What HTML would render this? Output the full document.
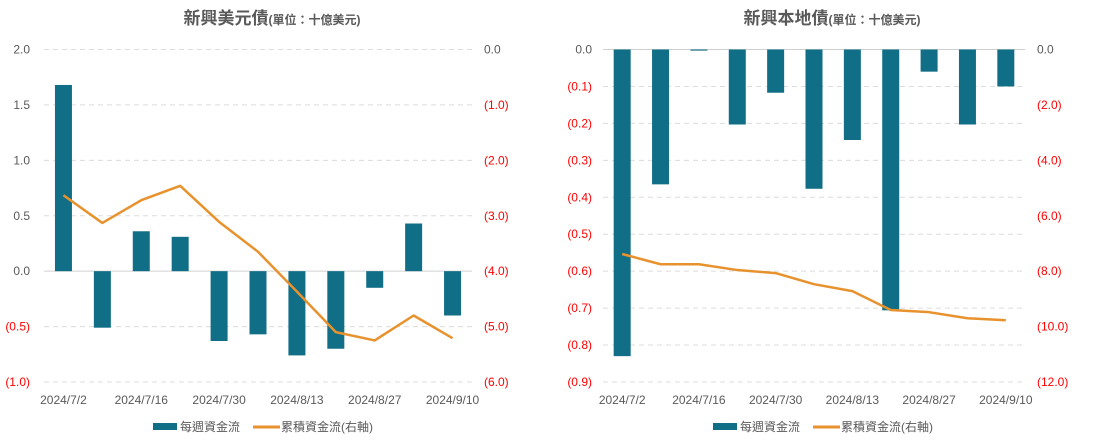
<!DOCTYPE html>
<html><head><meta charset="utf-8"><style>
body{margin:0;background:#fff;width:1104px;height:441px;overflow:hidden}
svg text{font-family:"Liberation Sans","Noto Sans CJK TC",sans-serif}
</style></head><body>
<svg id="svg" width="1104" height="441"></svg>
<script>
const categories=["2024/7/2","2024/7/9","2024/7/16","2024/7/23","2024/7/30","2024/8/6","2024/8/13","2024/8/20","2024/8/27","2024/9/3","2024/9/10"];
const usdWeekly=[1.68,-0.51,0.36,0.31,-0.63,-0.57,-0.76,-0.70,-0.15,0.43,-0.40];
const usdCumulative=[-2.63,-3.13,-2.72,-2.46,-3.11,-3.65,-4.37,-5.10,-5.25,-4.80,-5.21];
const localWeekly=[-0.83,-0.365,-0.003,-0.203,-0.117,-0.377,-0.245,-0.706,-0.06,-0.203,-0.10];
const localCumulative=[-7.38,-7.75,-7.75,-7.96,-8.07,-8.47,-8.72,-9.40,-9.48,-9.70,-9.77];
const usdLeftTicks=[2.0,1.5,1.0,0.5,0.0,-0.5,-1.0];
const usdRightTicks=[0,-1,-2,-3,-4,-5,-6];
const localLeftTicks=[0,-0.1,-0.2,-0.3,-0.4,-0.5,-0.6,-0.7,-0.8,-0.9];
const localRightTicks=[0,-2,-4,-6,-8,-10,-12];
const xLabelIdx=[0,2,4,6,8,10];

const NS="http://www.w3.org/2000/svg";
const svg=document.getElementById('svg');
function mk(tag,attrs,parent,txt){const e=document.createElementNS(NS,tag);for(const k in attrs)e.setAttribute(k,attrs[k]);if(txt!==undefined)e.textContent=txt;parent.appendChild(e);return e;}
function fmt(v){const s=Math.abs(v).toFixed(1);return v<-1e-9?"("+s+")":s;}

function chart(o){
  const g=mk('g',{},svg);
  
  
  const top=49.5,bot=382;
  const yL=v=>top+(o.lmax-v)/(o.lmax-o.lmin)*(bot-top);
  const yR=v=>top+(o.rmax-v)/(o.rmax-o.rmin)*(bot-top);
  const step=(o.x1-o.x0)/categories.length;
  const xC=i=>o.x0+step*(i+0.5);
  const t=mk('text',{x:o.titleX,y:24,'text-anchor':'middle',fill:'#595959','font-weight':'bold','font-size':17},g);
  
  
  mk('tspan',{},t,o.title);
  mk('tspan',{'font-size':12},t,'(單位：十億美元)');
  o.lticks.forEach(v=>{
    const y=yL(v);
    const gl=mk('line',{x1:o.x0,x2:o.x1,y1:y,y2:y,stroke:Math.abs(v)<1e-9?'#d0d0d0':'#dcdcdc','stroke-dasharray':Math.abs(v)<1e-9&&o.solidZero?'':'5,4','stroke-width':1},g);
    
    
    const l=mk('text',{x:o.lx,y:y+4,'text-anchor':'end','font-size':12,fill:v<-1e-9?'#ff0000':'#595959'},g,fmt(v));
    
    
  });
  o.rticks.forEach(v=>{
    const l=mk('text',{x:o.rx,y:yR(v)+4,'font-size':12,fill:v<-1e-9?'#ff0000':'#595959'},g,fmt(v));
    
    
  });
  o.bars.forEach((v,i)=>{
    const y0=yL(0),y1=yL(v);
    const r=mk('rect',{x:xC(i)-8.5,width:17,y:Math.min(y0,y1),height:Math.max(0.8,Math.abs(y1-y0)),fill:'#106e86'},g);
    
    
  });
  const p=mk('polyline',{points:o.line.map((v,i)=>xC(i)+','+yR(v)).join(' '),fill:'none',stroke:'#e8922e','stroke-width':2.5,'stroke-linejoin':'round'},g);
  
  
  xLabelIdx.forEach(i=>{
    const l=mk('text',{x:xC(i),y:404,'text-anchor':'middle','font-size':12,fill:'#595959'},g,categories[i]);
    
    
  });
  const lg=mk('g',{},g);
  
  
  mk('rect',{x:o.legX,y:423,width:24,height:7,fill:'#106e86'},lg);
  const e1=mk('text',{x:o.legX+27,y:431,'font-size':12,fill:'#595959'},lg,'每週資金流');
  
  
  mk('line',{x1:o.legX+100,x2:o.legX+127,y1:427,y2:427,stroke:'#e8922e','stroke-width':3},lg);
  const e2=mk('text',{x:o.legX+128,y:431,'font-size':12,fill:'#595959'},lg,'累積資金流(右軸)');
  
  
}
chart({name:'usd-bond-chart',title:'新興美元債',titleX:272,x0:44,x1:472,lmax:2,lmin:-1,rmax:0,rmin:-6,lticks:usdLeftTicks,rticks:usdRightTicks,lx:30,rx:484,bars:usdWeekly,line:usdCumulative,legX:153,solidZero:true});
chart({name:'local-bond-chart',title:'新興本地債',titleX:832,x0:603,x1:1025,lmax:0,lmin:-0.9,rmax:0,rmin:-12,lticks:localLeftTicks,rticks:localRightTicks,lx:592,rx:1037,bars:localWeekly,line:localCumulative,legX:713,solidZero:true});
</script>
</body></html>
